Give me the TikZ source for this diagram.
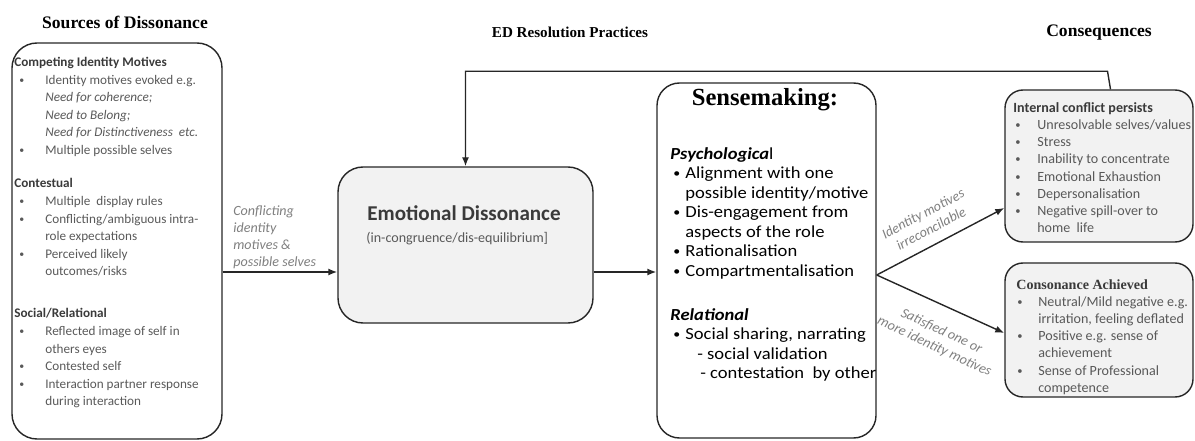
\documentclass[tikz,border=0pt]{standalone}
\usepackage{graphicx}
\usepackage{fontspec}
\setmainfont{Liberation Serif}
\newfontfamily\calfont{Carlito}
\newfontfamily\calwide[FakeStretch=1.1]{Carlito}
\usetikzlibrary{positioning,fit,calc,arrows.meta}

\definecolor{boxgray}{HTML}{F2F2F2}
\definecolor{txtgray}{HTML}{595959}
\definecolor{hdgray}{HTML}{3A3A3A}
\definecolor{lblgray}{HTML}{7F7F7F}
\definecolor{linegray}{HTML}{262626}

% bullet lists inside the boxes
\newlength\bulx
\newlength\bulw
\newcommand{\dotb}{\raisebox{0.15ex}{\scalebox{0.75}{\textbullet}}}
\newcommand{\itm}[1]{\hspace*{\bulx}\makebox[\bulw][l]{\dotb}#1}
\newcommand{\cnt}[1]{\hspace*{\dimexpr\bulx+\bulw\relax}#1}

\tikzset{
  box/.style={draw=linegray, line width=0.8pt, rounded corners=5mm, inner sep=0pt},
  graybox/.style={box, fill=boxgray},
  coltitle/.style={font=\rmfamily\bfseries\fontsize{10}{12}\selectfont},
  bul/.style 2 args={execute at begin node={\setlength\bulx{#1}\setlength\bulw{#2}}},
  list/.style={anchor=north west, align=left, inner sep=0pt},
  lbl/.style={font=\calfont\itshape\fontsize{8}{9.7}\selectfont, text=lblgray, inner sep=0pt},
  arr/.style={line width=0.8pt, draw=linegray, ->},
}

\begin{document}
\begin{tikzpicture}[x=0.2mm, y=-0.2mm, >={Latex[length=1.8mm, width=1.4mm]}]
  \useasboundingbox (0,0) rectangle (1195,441);

  % Column titles
  \node[coltitle] (tSrc) at (125,22) {Sources of Dissonance};
  \node[coltitle, font=\rmfamily\bfseries\fontsize{8.6}{10}\selectfont] (tRes) at (570,32) {ED Resolution Practices};
  \node[coltitle] (tCon) at (1099,33) {Consequences};

  % Sources of dissonance
  \node[box, fit={(12,43) (222,439)}] (src) {};
  \node[list, bul={1mm}{5.2mm}, text=txtgray,
        font=\calfont\fontsize{7.5}{10}\selectfont] (srcTxt) at (14,57) {%
    \textcolor{hdgray}{\textbf{Competing Identity Motives}}\\
    \itm{Identity motives evoked e.g.}\\
    \cnt{\textit{Need for coherence;}}\\
    \cnt{\textit{Need to Belong;}}\\
    \cnt{\textit{Need for Distinctiveness\ \ etc.}}\\
    \itm{Multiple possible selves}\\[9pt]
    \textcolor{hdgray}{\textbf{Contestual}}\\
    \itm{Multiple\ \ display rules}\\
    \itm{Conflicting/ambiguous intra-}\\
    \cnt{role expectations}\\
    \itm{Perceived likely}\\
    \cnt{outcomes/risks}\\[14pt]
    \textcolor{hdgray}{\textbf{Social/Relational}}\\
    \itm{Reflected image of self in}\\
    \cnt{others eyes}\\
    \itm{Contested self}\\
    \itm{Interaction partner response}\\
    \cnt{during interaction}};

  % Emotional dissonance
  \node[graybox, fit={(338,167) (593,323)}] (ed) {};
  \node[font=\calfont\bfseries\fontsize{12}{14}\selectfont, text=hdgray] (edTitle) at (464,213) {Emotional Dissonance};
  \node[anchor=west, inner sep=0pt, font=\calfont\fontsize{8}{10}\selectfont, text=txtgray] (edSub) at (366,239) {(in-congruence/dis-equilibrium]};

  % Sensemaking
  \node[box, rounded corners=4.5mm, fit={(657,83) (876,438)}] (sm) {};
  \node[font=\rmfamily\bfseries\fontsize{14}{16}\selectfont] (smTitle) at (765,100) {Sensemaking:};
  \node[list, bul={0.6mm}{2.4mm},
        font=\calwide\fontsize{9.6}{11.1}\selectfont] (smTxt) at (670,147) {%
    \textbf{\textit{Psychologica}}l\\
    \itm{Alignment with one}\\
    \cnt{possible identity/motive}\\
    \itm{Dis-engagement from}\\
    \cnt{aspects of the role}\\
    \itm{Rationalisation}\\
    \itm{Compartmentalisation}\\[14pt]
    \textbf{\textit{Relational}}\\
    \itm{Social sharing, narrating}\\
    \hspace*{5.4mm}-\ social validation\\
    \hspace*{6mm}- contestation\ \ by other};

  % Consequences
  \node[graybox, rounded corners=3.6mm, fit={(1005,90) (1193,242)}] (ic) {};
  \node[list, bul={0.4mm}{4.4mm}, text=txtgray,
        font=\calfont\fontsize{8}{9.8}\selectfont] (icTxt) at (1013,102) {%
    \textcolor{hdgray}{\textbf{Internal conflict persists}}\\
    \itm{Unresolvable selves/values}\\
    \itm{Stress}\\
    \itm{Inability to concentrate}\\
    \itm{Emotional Exhaustion}\\
    \itm{Depersonalisation}\\
    \itm{Negative spill-over to}\\
    \cnt{home\ \ life}};

  \node[graybox, rounded corners=3.6mm, fit={(1005,263) (1193,397)}] (cons) {};
  \node[list, bul={0.2mm}{4.2mm}, text=txtgray,
        font=\calfont\fontsize{8}{9.8}\selectfont] (consTxt) at (1016,279) {%
    \textcolor{hdgray}{\rmfamily\bfseries Consonance Achieved}\\
    \itm{Neutral/Mild negative e.g.}\\
    \cnt{irritation, feeling deflated}\\
    \itm{Positive e.g. sense of}\\
    \cnt{achievement}\\
    \itm{Sense of Professional}\\
    \cnt{competence}};

  % Connectors
  \draw[arr] (src.east |- 0,272) -- (ed.west |- 0,272);
  \node[lbl, list] (lblIn) at (233,205) {Conflicting\\identity\\motives \&\\possible selves};
  \draw[arr] (ed.east |- 0,272) -- (sm.west |- 0,272);

  \coordinate (fork) at (sm.east |- 0,275);
  \draw[arr] (fork) -- (ic.west |- 0,208);
  \draw[arr] (fork) -- (cons.west |- 0,333);
  \node[lbl, align=center, rotate=28] (lblUp) at (927,221) {Identity motives\\irreconcilable};
  \node[lbl, align=center, rotate=-25] (lblDown) at (938,339) {Satisfied one or\\more identity motives};

  % Feedback loop
  \draw[arr] ([xshift=2.3mm]ic.north) -- ++(-3,-18) -| (ed.north);
\end{tikzpicture}
\end{document}
